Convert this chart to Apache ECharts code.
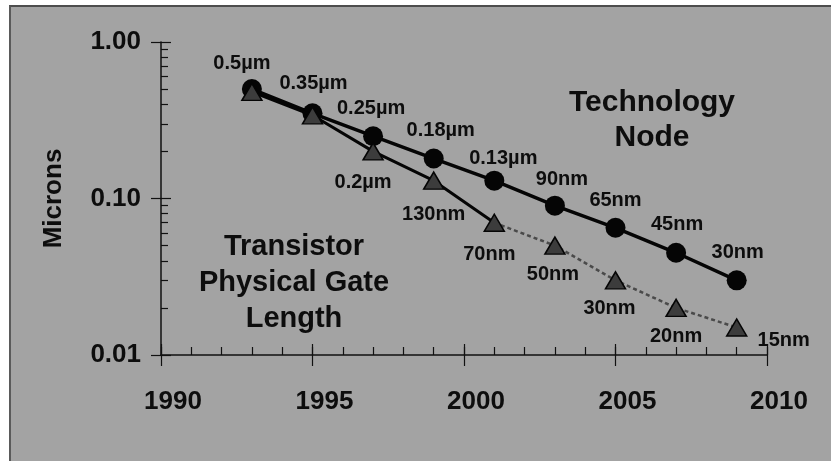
<!DOCTYPE html>
<html>
<head>
<meta charset="utf-8">
<script src="https://cdn.jsdelivr.net/npm/echarts@6/dist/echarts.min.js"></script>
<style>
  html, body { margin: 0; padding: 0; background: #ffffff; }
  #wrap { position: relative; width: 831px; height: 461px; overflow: hidden; }
  #panel { position: absolute; left: 9px; top: 5px; width: 830px; height: 470px;
           background: #a3a3a3; border-top: 2px solid #4d4d4d; border-left: 2px solid #5a5a5a; }
  #chart { position: absolute; left: 0; top: 0; width: 831px; height: 461px; }
</style>
</head>
<body>
<div id="wrap"><div id="panel"></div><div id="chart"></div></div>
<script>
// ---- data ----
const years = [1993, 1995, 1997, 1999, 2001, 2003, 2005, 2007, 2009];
const techNode = [0.5, 0.35, 0.25, 0.18, 0.13, 0.09, 0.065, 0.045, 0.03];
const techNodeLabels = ['0.5µm', '0.35µm', '0.25µm', '0.18µm', '0.13µm', '90nm', '65nm', '45nm', '30nm'];
const gateLength = [0.48, 0.34, 0.2, 0.13, 0.07, 0.05, 0.03, 0.02, 0.015];
const gateLabels = ['', '', '0.2µm', '130nm', '70nm', '50nm', '30nm', '20nm', '15nm'];
const gateSolidYears = [1993, 1995, 1997, 1999, 2001];
const gateDottedYears = [2001, 2003, 2005, 2007, 2009];
const xTickLabels = ['1990', '1995', '2000', '2005', '2010'];
const yTickLabels = ['0.01', '0.10', '1.00'];
const yMinorTicks = [0.02, 0.03, 0.04, 0.05, 0.06, 0.07, 0.08, 0.09, 0.2, 0.3, 0.4, 0.5, 0.6, 0.7, 0.8, 0.9];
const yName = 'Microns';
const nodeTitle = 'Technology\nNode';
const gateTitle = 'Transistor\nPhysical Gate\nLength';

// ---- styling (label offsets in px) ----
const nodeLabelOffsets = [[-10, -26], [1, -30], [-2, -28], [7, -28], [9, -22], [7, -26], [0, -27], [1, -28], [1, -28]];
const gateLabelOffsets = [[0, 0], [0, 0], [-10, 31], [0, 34], [-5, 32], [-2, 29], [-6, 28], [0, 29], [47, 13]];

const FONT = '"Liberation Sans", Arial, sans-serif';
const INK = '#0d0d0d';

function pairs(xs, ys) { return xs.map((x, i) => [x, ys[i]]); }
function valueAt(y) { return gateLength[years.indexOf(y)]; }

const labelStyle = { fontFamily: FONT, fontWeight: 'bold', fontSize: 20, color: INK, position: 'inside' };

const nodeData = years.map((x, i) => ({
  value: [x, techNode[i]],
  label: Object.assign({ show: true, formatter: techNodeLabels[i], offset: nodeLabelOffsets[i] }, labelStyle)
}));
const gateData = years.map((x, i) => ({
  value: [x, gateLength[i]],
  label: Object.assign({ show: gateLabels[i] !== '', formatter: gateLabels[i], offset: gateLabelOffsets[i] }, labelStyle)
}));

const baseX = { type: 'value', min: 1990, max: 2010, position: 'bottom', offset: 0, splitLine: { show: false } };
const baseY = { type: 'log', logBase: 10, min: 0.01, max: 1, position: 'left', offset: 0, splitLine: { show: false } };

const chart = echarts.init(document.getElementById('chart'), null, { renderer: 'canvas' });
chart.setOption({
  backgroundColor: 'transparent',
  animation: false,
  grid: { left: 161, right: 64, top: 42, bottom: 106, containLabel: false, outerBoundsMode: 'none' },
  xAxis: [
    Object.assign({}, baseX, {
      interval: 5,
      axisLine: { show: true, onZero: false, lineStyle: { color: '#111111', width: 1.5 } },
      axisTick: { show: true, inside: false, length: 11, lineStyle: { color: '#111111', width: 1.2 } },
      axisLabel: {
        show: true, margin: 34, padding: [0, 0, 0, 24],
        formatter: (v) => xTickLabels[Math.round((v - 1990) / 5)],
        fontFamily: FONT, fontWeight: 'bold', fontSize: 26, color: INK
      }
    }),
    Object.assign({}, baseX, {
      interval: 1,
      axisLine: { show: false, onZero: false },
      axisTick: { show: true, inside: true, length: 8, lineStyle: { color: '#111111', width: 1.2 } },
      axisLabel: { show: false }
    }),
    Object.assign({}, baseX, {
      interval: 5,
      axisLine: { show: false, onZero: false },
      axisTick: { show: true, inside: true, length: 11, lineStyle: { color: '#111111', width: 1.2 } },
      axisLabel: { show: false }
    })
  ],
  yAxis: [
    Object.assign({}, baseY, {
      name: yName, nameLocation: 'middle', nameRotate: 90, nameGap: 94,
      nameTextStyle: { fontFamily: FONT, fontWeight: 'bold', fontSize: 26, color: INK },
      axisLine: { show: true, onZero: false, lineStyle: { color: '#111111', width: 1.5 } },
      axisTick: { show: true, inside: false, length: 10, lineStyle: { color: '#111111', width: 1.2 } },
      axisLabel: {
        show: true, margin: 20,
        formatter: (v) => yTickLabels[Math.round(Math.log10(v) + 2)],
        fontFamily: FONT, fontWeight: 'bold', fontSize: 26, color: INK
      }
    }),
    Object.assign({}, baseY, {
      axisLine: { show: false, onZero: false },
      axisTick: { show: true, inside: true, length: 10, lineStyle: { color: '#111111', width: 1.2 } },
      axisLabel: { show: false }
    }),
    Object.assign({}, baseY, {
      axisLine: { show: false, onZero: false },
      axisTick: { show: true, inside: true, length: 7, customValues: yMinorTicks, lineStyle: { color: '#111111', width: 1.2 } },
      axisLabel: { show: false }
    })
  ],
  graphic: [
    { type: 'text', x: 652, y: 120, z: 10, style: { text: nodeTitle, textAlign: 'center', textVerticalAlign: 'middle',
      font: 'bold 30px ' + FONT, lineHeight: 35, fill: INK } },
    { type: 'text', x: 294, y: 283, z: 10, style: { text: gateTitle, textAlign: 'center', textVerticalAlign: 'middle',
      font: 'bold 29px ' + FONT, lineHeight: 36, fill: INK } }
  ],
  series: [
    {
      name: 'Technology Node', type: 'line', xAxisIndex: 0, yAxisIndex: 0, z: 3,
      data: nodeData,
      symbol: 'circle', symbolSize: 20,
      itemStyle: { color: '#050505', borderColor: '#050505', borderWidth: 0 },
      lineStyle: { color: '#050505', width: 3.5 }
    },
    {
      name: 'Gate length (solid)', type: 'line', xAxisIndex: 0, yAxisIndex: 0, z: 4,
      data: pairs(gateSolidYears, gateSolidYears.map(valueAt)),
      showSymbol: false, symbol: 'none',
      lineStyle: { color: '#050505', width: 3 }
    },
    {
      name: 'Gate length (projected)', type: 'line', xAxisIndex: 0, yAxisIndex: 0, z: 4,
      data: pairs(gateDottedYears, gateDottedYears.map(valueAt)),
      showSymbol: false, symbol: 'none',
      lineStyle: { color: '#4a4a4a', width: 2.5, type: [4, 3] }
    },
    {
      name: 'Transistor Physical Gate Length', type: 'line', xAxisIndex: 0, yAxisIndex: 0, z: 5,
      data: gateData,
      symbol: 'triangle', symbolSize: [20, 17],
      itemStyle: { color: '#3c3c3c', borderColor: '#050505', borderWidth: 1.5 },
      lineStyle: { width: 0, opacity: 0 }
    }
  ]
});
</script>
</body>
</html>
